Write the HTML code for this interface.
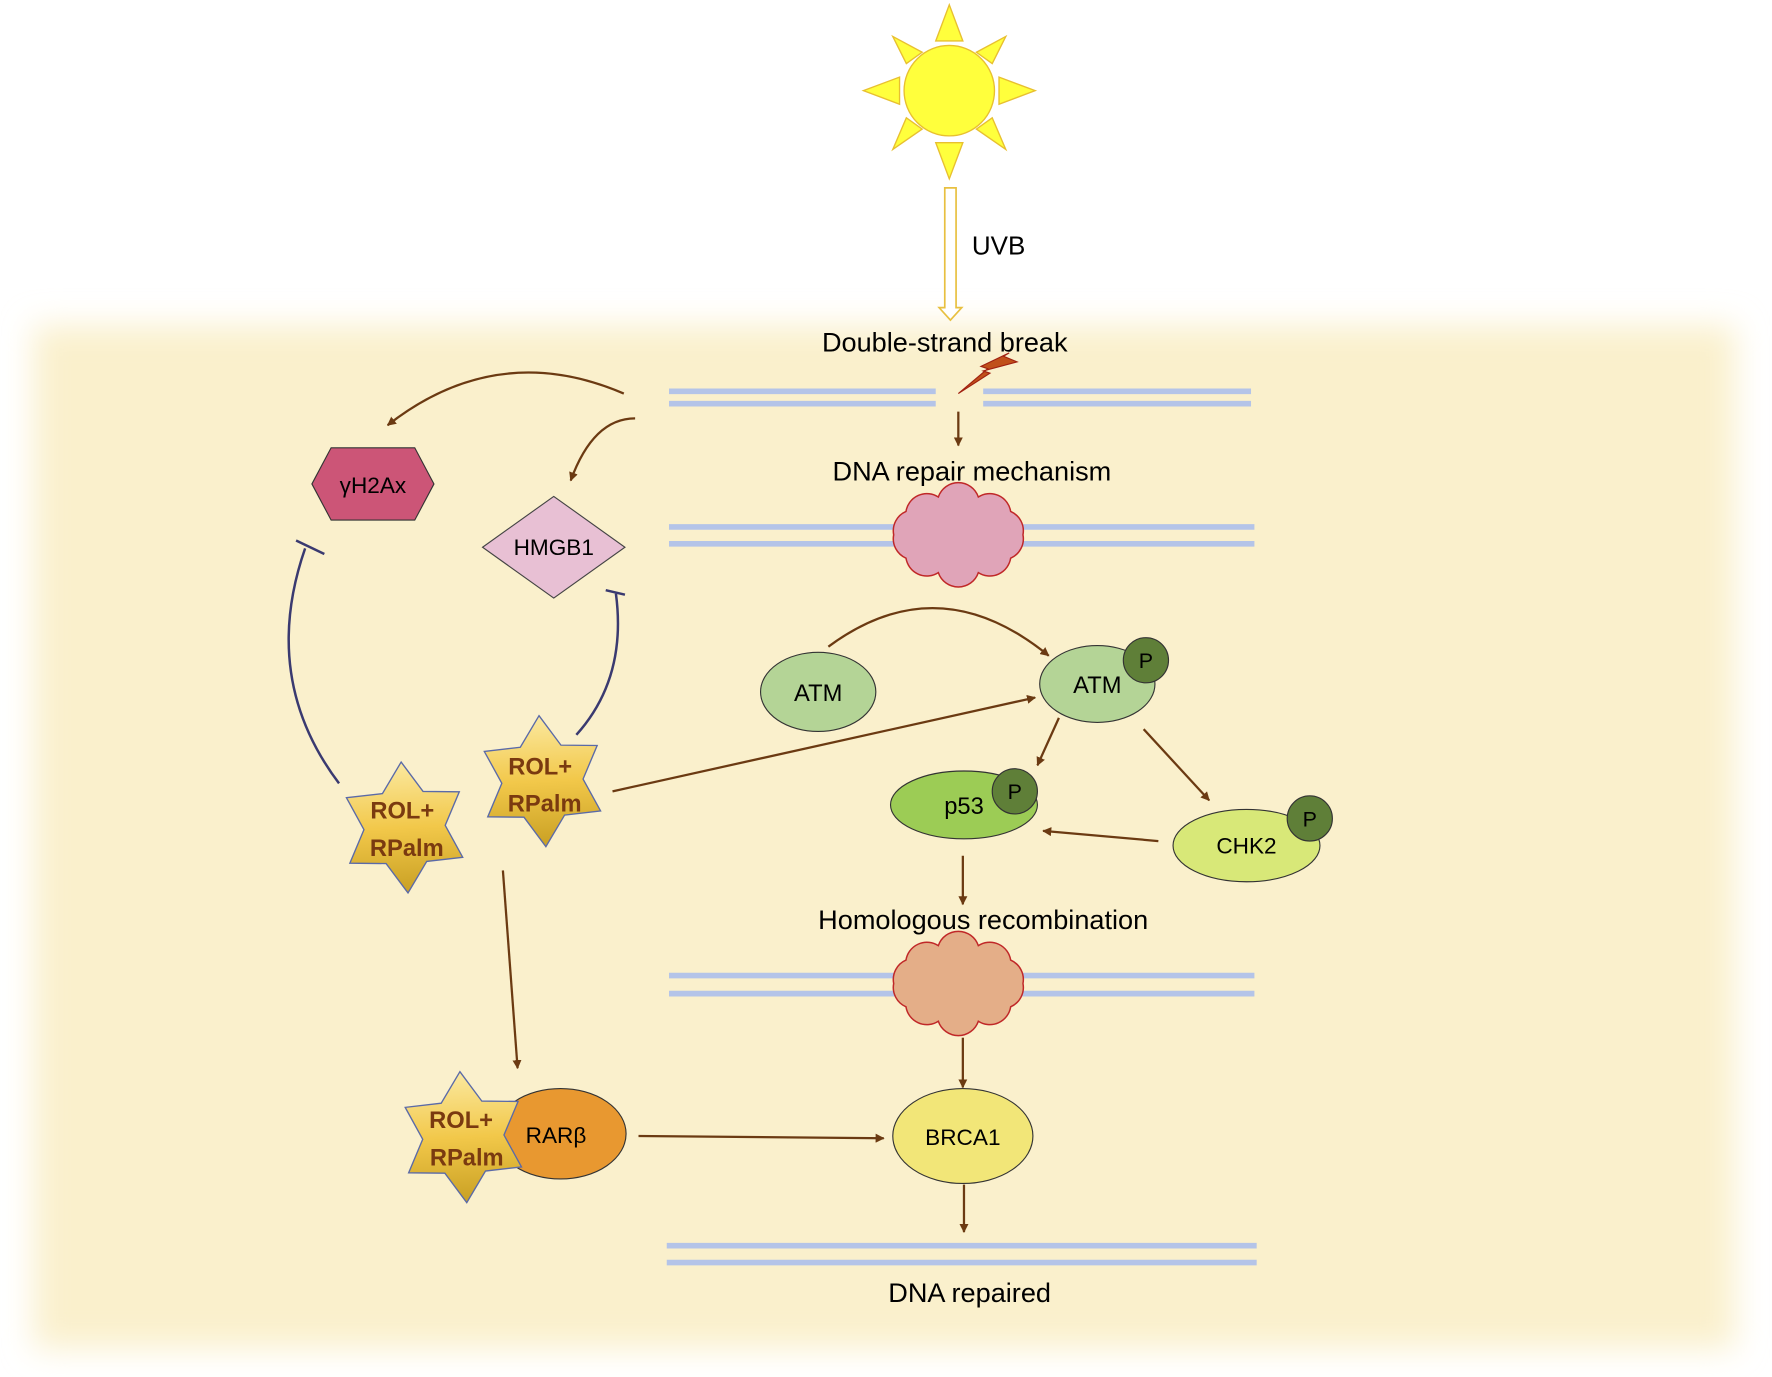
<!DOCTYPE html>
<html><head><meta charset="utf-8"><style>html,body{margin:0;padding:0;background:#fff}svg{display:block}text{font-family:"Liberation Sans",sans-serif}</style></head><body>
<svg width="1772" height="1377" viewBox="0 0 1568 1218" xmlns="http://www.w3.org/2000/svg">
<defs>
<filter id="bl" x="-5%" y="-5%" width="110%" height="110%"><feGaussianBlur stdDeviation="14"/></filter>
<linearGradient id="gold" x1="0" y1="0" x2="0" y2="1"><stop offset="0" stop-color="#fbe9a0"/><stop offset="0.5" stop-color="#f2c84a"/><stop offset="1" stop-color="#c9a023"/></linearGradient>
<marker id="ah" viewBox="0 0 10 10" refX="9" refY="5" markerWidth="4" markerHeight="4" orient="auto"><path d="M0,0 L10,5 L0,10 z" fill="#6b3a12"/></marker>
<path id="cloud" d="M52,0 A17,17 0 0 1 42.1,18.8 A17,17 0 0 1 16.1,30.4 A17,17 0 0 1 -16.1,30.4 A17,17 0 0 1 -42.1,18.8 A17,17 0 0 1 -52,0 A17,17 0 0 1 -42.1,-18.8 A17,17 0 0 1 -16.1,-30.4 A17,17 0 0 1 16.1,-30.4 A17,17 0 0 1 42.1,-18.8 A17,17 0 0 1 52,0 z"/>
<polygon id="star" points="0,-58 18,-31 50,-29 36,0 50,29 18,31 0,58 -18,31 -50,29 -36,0 -50,-29 -18,-31"/>
</defs>
<rect x="30" y="288" width="1505" height="905" fill="#faf0cc" filter="url(#bl)"/>
<g fill="#ffff3c" stroke="#e8c030" stroke-width="1.2">
<circle cx="840" cy="80" r="40"/>
<polygon points="828,36 840,4 852,36"/>
<polygon points="828,126 840,158 852,126"/>
<polygon points="796,68 764,80 796,92"/>
<polygon points="884,68 916,80 884,92"/>
<polygon points="790,32 816,46 802,56"/>
<polygon points="890,32 864,46 878,56"/>
<polygon points="790,132 816,114 802,104"/>
<polygon points="890,132 864,114 878,104"/>
</g>
<path d="M836,166 H846 V272 H851 L841,283 L831,272 H836 Z" fill="#fff" stroke="#e8c040" stroke-width="1.5"/>
<text x="860" y="225" font-size="23">UVB</text>
<text x="836" y="311" font-size="24" text-anchor="middle">Double-strand break</text>
<polygon points="848,348 876,330 870,328 900,320 888,315 893,312 868,324 874,326" fill="#c0501a" stroke="#a02010" stroke-width="1"/>
<g stroke="#b4c4e8" stroke-width="5">
<line x1="592" y1="346" x2="828" y2="346"/><line x1="592" y1="357" x2="828" y2="357"/>
<line x1="870" y1="346" x2="1107" y2="346"/><line x1="870" y1="357" x2="1107" y2="357"/>
<line x1="592" y1="466" x2="1110" y2="466"/><line x1="592" y1="481" x2="1110" y2="481"/>
<line x1="592" y1="863" x2="1110" y2="863"/><line x1="592" y1="879" x2="1110" y2="879"/>
<line x1="590" y1="1102" x2="1112" y2="1102"/><line x1="590" y1="1117" x2="1112" y2="1117"/>
</g>
<text x="860" y="425" font-size="24" text-anchor="middle">DNA repair mechanism</text>
<use href="#cloud" transform="translate(848,473) scale(1.1,1.1)" fill="#e0a4b8" stroke="#c02828" stroke-width="1.2"/>
<text x="870" y="822" font-size="24" text-anchor="middle">Homologous recombination</text>
<use href="#cloud" transform="translate(848,870) scale(1.1,1.1)" fill="#e4ae88" stroke="#c02828" stroke-width="1.2"/>
<text x="858" y="1152" font-size="24" text-anchor="middle">DNA repaired</text>
<g stroke="#6b3a12" stroke-width="2" fill="none" marker-end="url(#ah)">
<line x1="848" y1="364" x2="848" y2="394"/>
<path d="M552,348 Q440,300 343,376"/>
<path d="M562,370 Q525,370 505,425"/>
<path d="M733,572 Q830,500 928,580"/>
<line x1="542" y1="700" x2="916" y2="617"/>
<line x1="937" y1="635" x2="918" y2="677"/>
<line x1="1012" y1="645" x2="1070" y2="708"/>
<line x1="1025" y1="744" x2="923" y2="735"/>
<line x1="852" y1="757" x2="852" y2="800"/>
<line x1="445" y1="770" x2="458" y2="945"/>
<line x1="565" y1="1005" x2="782" y2="1007"/>
<line x1="852" y1="918" x2="852" y2="962"/>
<line x1="853" y1="1048" x2="853" y2="1090"/>
</g>
<g stroke="#3a3a70" stroke-width="2.2" fill="none">
<path d="M300,693 Q230,600 270,485"/>
<line x1="262" y1="478" x2="287" y2="490"/>
<path d="M510,650 Q555,600 545,525"/>
<line x1="536" y1="522" x2="553" y2="526"/>
</g>
<polygon points="276,428 293,396 367,396 384,428 367,460 293,460" fill="#cc5577" stroke="#333" stroke-width="1"/>
<text x="330" y="436" font-size="20" text-anchor="middle">γH2Ax</text>
<polygon points="427,484 490,439 553,484 490,529" fill="#e8c0d4" stroke="#444" stroke-width="1"/>
<text x="490" y="491" font-size="20" text-anchor="middle">HMGB1</text>
<ellipse cx="724" cy="612" rx="51" ry="35" fill="#b4d496" stroke="#333" stroke-width="1"/>
<text x="724" y="620" font-size="21" text-anchor="middle">ATM</text>
<ellipse cx="971" cy="605" rx="51" ry="34" fill="#b4d496" stroke="#333" stroke-width="1"/>
<text x="971" y="613" font-size="21" text-anchor="middle">ATM</text>
<circle cx="1014" cy="584" r="20" fill="#5f7f38" stroke="#333" stroke-width="1"/>
<text x="1014" y="591" font-size="19" text-anchor="middle">P</text>
<ellipse cx="853" cy="712" rx="65" ry="30" fill="#9ccc55" stroke="#333" stroke-width="1"/>
<text x="853" y="720" font-size="21" text-anchor="middle">p53</text>
<circle cx="898" cy="700" r="20" fill="#5f7f38" stroke="#333" stroke-width="1"/>
<text x="898" y="707" font-size="19" text-anchor="middle">P</text>
<ellipse cx="1103" cy="748" rx="65" ry="32" fill="#d8e878" stroke="#333" stroke-width="1"/>
<text x="1103" y="755" font-size="20" text-anchor="middle">CHK2</text>
<circle cx="1159" cy="724" r="20" fill="#5f7f38" stroke="#333" stroke-width="1"/>
<text x="1159" y="731" font-size="19" text-anchor="middle">P</text>
<ellipse cx="852" cy="1005" rx="62" ry="42" fill="#f2e678" stroke="#333" stroke-width="1"/>
<text x="852" y="1013" font-size="20" text-anchor="middle">BRCA1</text>
<ellipse cx="496" cy="1003" rx="58" ry="40" fill="#e89830" stroke="#333" stroke-width="1"/>
<text x="492" y="1011" font-size="20" text-anchor="middle">RARβ</text>
<g fill="url(#gold)" stroke="#5a6aa8" stroke-width="1.2">
<use href="#star" transform="translate(358,732) rotate(-3)"/>
<use href="#star" transform="translate(480,691) rotate(-3)"/>
<use href="#star" transform="translate(410,1006) rotate(-3)"/>
</g>
<g font-size="21" font-weight="bold" fill="#7a3a10" text-anchor="middle">
<text x="356" y="724">ROL+</text><text x="360" y="757">RPalm</text>
<text x="478" y="685">ROL+</text><text x="482" y="718">RPalm</text>
<text x="408" y="998">ROL+</text><text x="413" y="1031">RPalm</text>
</g>
</svg>
</body></html>
